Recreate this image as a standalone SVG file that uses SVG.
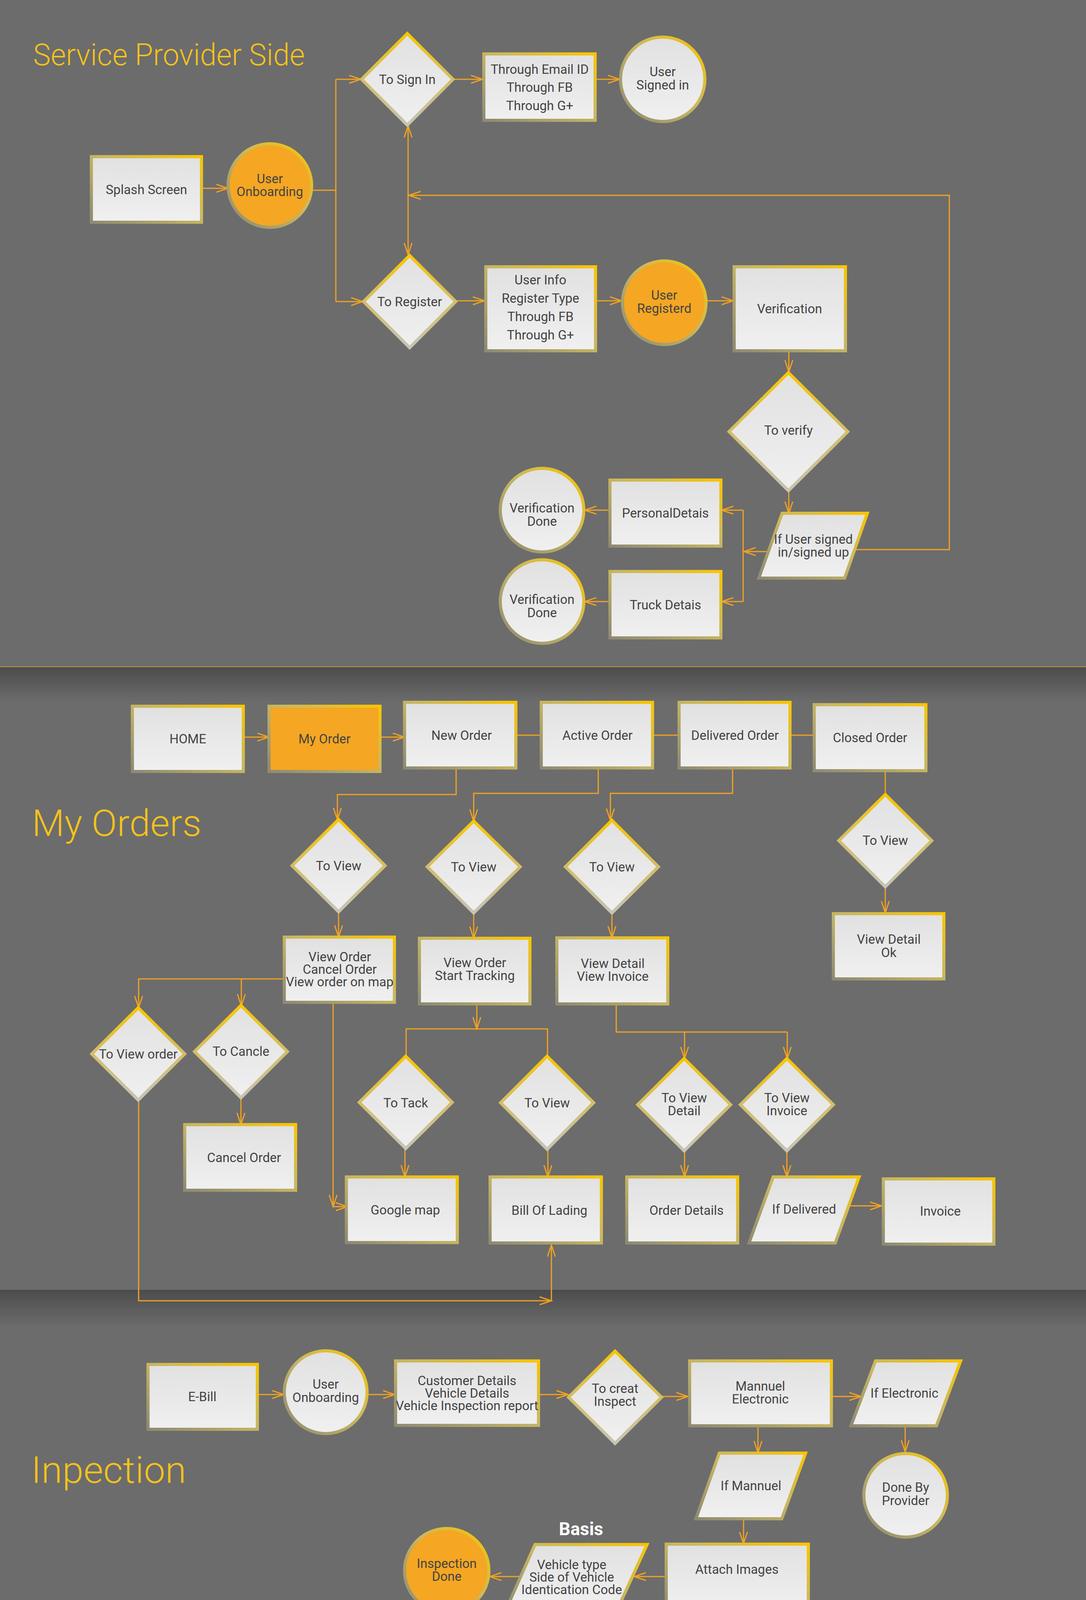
<svg xmlns="http://www.w3.org/2000/svg" width="2781" height="4831" viewBox="0 0 2781 4831">
<defs>
<linearGradient id="gb" x1="0" y1="1" x2="1" y2="0"><stop offset="0" stop-color="#8e8a74"/><stop offset="0.55" stop-color="#c9b860"/><stop offset="1" stop-color="#f9c500"/></linearGradient>
<linearGradient id="gd" x1="0" y1="0" x2="0" y2="1"><stop offset="0" stop-color="#f8c600"/><stop offset="0.5" stop-color="#d2be68"/><stop offset="1" stop-color="#c6c4b6"/></linearGradient>
<linearGradient id="gf" x1="0" y1="0" x2="0" y2="1"><stop offset="0" stop-color="#e1e1e1"/><stop offset="1" stop-color="#f0f0f0"/></linearGradient>
<linearGradient id="gs" x1="0" y1="0" x2="0" y2="1"><stop offset="0" stop-color="#000" stop-opacity="0.3"/><stop offset="1" stop-color="#000" stop-opacity="0"/></linearGradient>
<linearGradient id="gy" x1="0" y1="0" x2="0" y2="1"><stop offset="0" stop-color="#7a6420" stop-opacity="0.55"/><stop offset="1" stop-color="#7a6420" stop-opacity="0"/></linearGradient>
<marker id="ah" markerUnits="userSpaceOnUse" viewBox="0 0 34 24" markerWidth="34" markerHeight="24" refX="31" refY="12" orient="auto" overflow="visible"><path d="M1,2 L31,12 L1,22" fill="none" stroke="#f5a31e" stroke-width="3"/></marker>
</defs>
<style>
.bx{fill:url(#gf);stroke:url(#gb);stroke-width:8}
.or{fill:#f5a623;stroke:url(#gb);stroke-width:8}
.dm{fill:url(#gf);stroke:url(#gd);stroke-width:8}
.t{font-family:Roboto,"Liberation Sans",sans-serif;font-size:33px;fill:#434343;text-anchor:middle}
.ttl{font-family:Roboto,"Liberation Sans",sans-serif;font-weight:300;fill:#f7c21b}
.c{fill:none;stroke:#f5a31e;stroke-width:3}
.a{marker-end:url(#ah)}
</style>

<g id="background">
<rect x="0" y="0" width="2781" height="4831" fill="#ffffff"/>
<rect x="0" y="0" width="2781" height="4412" fill="#6c6c6c"/>
<rect x="0" y="1708" width="2781" height="90" fill="url(#gs)"/>
<line x1="0" y1="1707" x2="2781" y2="1707" stroke="#b8963a" stroke-width="2"/>
<rect x="0" y="3302" width="2781" height="95" fill="url(#gs)"/>
<path d="M0,4412 H2781 V4588 A4300,4300 0 0 1 0,4588 Z" fill="#f6ca2f"/>
<rect x="0" y="4412" width="2781" height="125" fill="url(#gy)"/>
</g>

<g id="titles">
<text class="ttl" x="85" y="167" font-size="77" textLength="696" lengthAdjust="spacingAndGlyphs">Service Provider Side</text>
<text class="ttl" x="82" y="2140" font-size="94" textLength="434" lengthAdjust="spacingAndGlyphs">My Orders</text>
<text class="ttl" x="80" y="3796" font-size="94" textLength="397" lengthAdjust="spacingAndGlyphs">Inpection</text>
</g>

<g id="connectors">
<path class="c a" d="M516,482 H584"/>
<path class="c" d="M798,487 H860 M860,203 V772"/>
<path class="c a" d="M860,203 H924"/>
<path class="c a" d="M860,772 H929"/>
<path class="c a" d="M1045,500 V322"/>
<path class="c a" d="M1045,500 V652"/>
<path class="c a" d="M1163,203 H1236"/>
<path class="c a" d="M1524,203 H1587"/>
<path class="c a" d="M1170,770 H1241"/>
<path class="c a" d="M1525,770 H1592"/>
<path class="c a" d="M1808,770 H1878"/>
<path class="c a" d="M2020,898 V952"/>
<path class="c a" d="M2020,1256 V1314"/>
<path class="c a" d="M2185,1407 H2431 V500 H1047"/>
<path class="c a" d="M1968,1412 H1905"/>
<path class="c" d="M1903,1306 V1540"/>
<path class="c a" d="M1903,1306 H1848"/>
<path class="c a" d="M1903,1540 H1848"/>
<path class="c a" d="M1562,1306 H1497"/>
<path class="c a" d="M1562,1540 H1497"/>

<path class="c a" d="M623,1887 H689"/>
<path class="c a" d="M973,1887 H1036"/>
<path class="c" d="M1321,1882 H1386 M1671,1882 H1739 M2023,1882 H2085"/>
<path class="c a" d="M1168,1966 V2034 H864 V2098"/>
<path class="c a" d="M1532,1966 V2031 H1213 V2102"/>
<path class="c a" d="M1876,1966 V2031 H1563 V2100"/>
<path class="c" d="M2267,1973 V2034"/>
<path class="c a" d="M867,2334 V2399"/>
<path class="c a" d="M1213,2337 V2402"/>
<path class="c a" d="M1567,2337 V2401"/>
<path class="c a" d="M2267,2270 V2337"/>
<path class="c a" d="M728,2506 H355 V2580"/>
<path class="c a" d="M618,2506 V2575"/>
<path class="c a" d="M617,2810 V2879"/>
<path class="c a" d="M355,2816 V3330 H1412"/>
<path class="c a" d="M1412,3330 V3187"/>
<path class="c a" d="M853,2566 V3089"/>
<path class="c a" d="M853,3089 H890"/>
<path class="c a" d="M1221,2570 V2634"/>
<path class="c" d="M1040,2704 V2634 H1402 V2704"/>
<path class="c a" d="M1037,2940 V3013"/>
<path class="c a" d="M1403,2943 V3013"/>
<path class="c" d="M1578,2570 V2642 H2016"/>
<path class="c a" d="M1753,2642 V2710"/>
<path class="c a" d="M2016,2642 V2710"/>
<path class="c a" d="M1753,2945 V3013"/>
<path class="c a" d="M2015,2945 V3013"/>
<path class="c a" d="M2172,3087 H2258"/>

<path class="c a" d="M659,3570 H727"/>
<path class="c a" d="M943,3570 H1011"/>
<path class="c a" d="M1379,3570 H1455"/>
<path class="c a" d="M1694,3575 H1762"/>
<path class="c a" d="M2129,3575 H2205"/>
<path class="c a" d="M2318,3650 V3717"/>
<path class="c a" d="M1941,3650 V3719"/>
<path class="c a" d="M1904,3888 V3952"/>
<path class="c a" d="M1706,4036 H1624"/>
<path class="c a" d="M1330,4036 H1254"/>
</g>

<g id="n-splash"><rect class="bx" x="234" y="401" width="282" height="168"/><text class="t" x="375" y="497">Splash Screen</text></g>
<g id="n-onboarding"><circle class="or" cx="691" cy="475" r="107"/><text class="t" x="691" y="469">User</text><text class="t" x="691" y="502">Onboarding</text></g>
<g id="n-signin"><polygon class="dm" points="1043,86 1160,203 1043,320 926,203"/><text class="t" x="1043" y="215">To Sign In</text></g>
<g id="n-register"><polygon class="dm" points="1049,654 1167,772 1049,890 931,772"/><text class="t" x="1049" y="784">To Register</text></g>
<g id="n-email"><rect class="bx" x="1239" y="138" width="285" height="170"/><text class="t" x="1382" y="189">Through Email ID</text><text class="t" x="1382" y="235">Through FB</text><text class="t" x="1382" y="282">Through G+</text></g>
<g id="n-signedin"><circle class="bx" cx="1697" cy="203" r="108"/><text class="t" x="1697" y="195">User</text><text class="t" x="1697" y="229">Signed in</text></g>
<g id="n-userinfo"><rect class="bx" x="1244" y="683" width="281" height="215"/><text class="t" x="1384" y="728">User Info</text><text class="t" x="1384" y="775">Register Type</text><text class="t" x="1384" y="822">Through FB</text><text class="t" x="1384" y="869">Through G+</text></g>
<g id="n-registerd"><circle class="or" cx="1701" cy="775" r="107"/><text class="t" x="1701" y="767">User</text><text class="t" x="1701" y="801">Registerd</text></g>
<g id="n-verification"><rect class="bx" x="1880" y="683" width="285" height="215"/><text class="t" x="2022" y="802">Verification</text></g>
<g id="n-toverify"><polygon class="dm" points="2019,954 2171,1105 2019,1256 1867,1105"/><text class="t" x="2019" y="1113">To verify</text></g>
<g id="n-ifuser"><polygon class="bx" points="2003,1314 2221,1314 2163,1480 1943,1480"/><text class="t" x="2083" y="1392">If User signed</text><text class="t" x="2083" y="1425">in/signed up</text></g>
<g id="n-personal"><rect class="bx" x="1562" y="1229" width="284" height="169"/><text class="t" x="1704" y="1325">PersonalDetais</text></g>
<g id="n-truck"><rect class="bx" x="1562" y="1463" width="284" height="170"/><text class="t" x="1704" y="1560">Truck Detais</text></g>
<g id="n-vdone1"><circle class="bx" cx="1388" cy="1306" r="107"/><text class="t" x="1388" y="1312">Verification</text><text class="t" x="1388" y="1346">Done</text></g>
<g id="n-vdone2"><circle class="bx" cx="1388" cy="1540" r="107"/><text class="t" x="1388" y="1546">Verification</text><text class="t" x="1388" y="1580">Done</text></g>

<g id="n-home"><rect class="bx" x="339" y="1808" width="284" height="167"/><text class="t" x="481" y="1903">HOME</text></g>
<g id="n-myorder"><rect class="or" x="689" y="1808" width="284" height="167"/><text class="t" x="831" y="1903">My Order</text></g>
<g id="n-neworder"><rect class="bx" x="1036" y="1798" width="285" height="168"/><text class="t" x="1182" y="1894">New Order</text></g>
<g id="n-activeorder"><rect class="bx" x="1386" y="1798" width="285" height="168"/><text class="t" x="1530" y="1894">Active Order</text></g>
<g id="n-deliveredorder"><rect class="bx" x="1739" y="1798" width="284" height="168"/><text class="t" x="1882" y="1894">Delivered Order</text></g>
<g id="n-closedorder"><rect class="bx" x="2085" y="1804" width="286" height="169"/><text class="t" x="2228" y="1900">Closed Order</text></g>
<g id="n-view1"><polygon class="dm" points="867,2098 986,2216 867,2334 748,2216"/><text class="t" x="867" y="2228">To View</text></g>
<g id="n-view2"><polygon class="dm" points="1213,2102 1332,2219 1213,2337 1094,2219"/><text class="t" x="1213" y="2231">To View</text></g>
<g id="n-view3"><polygon class="dm" points="1567,2100 1686,2219 1567,2337 1448,2219"/><text class="t" x="1567" y="2231">To View</text></g>
<g id="n-view4"><polygon class="dm" points="2267,2034 2386,2152 2267,2270 2148,2152"/><text class="t" x="2267" y="2163">To View</text></g>
<g id="n-box1"><rect class="bx" x="728" y="2399" width="282" height="167"/><text class="t" x="870" y="2461">View Order</text><text class="t" x="870" y="2493">Cancel Order</text><text class="t" x="870" y="2525">View order on map</text></g>
<g id="n-box2"><rect class="bx" x="1074" y="2402" width="283" height="168"/><text class="t" x="1216" y="2476">View Order</text><text class="t" x="1216" y="2509">Start Tracking</text></g>
<g id="n-box3"><rect class="bx" x="1426" y="2401" width="284" height="169"/><text class="t" x="1569" y="2478">View Detail</text><text class="t" x="1569" y="2511">View Invoice</text></g>
<g id="n-box4"><rect class="bx" x="2134" y="2339" width="283" height="167"/><text class="t" x="2276" y="2416">View Detail</text><text class="t" x="2276" y="2450">Ok</text></g>
<g id="n-viewordr"><polygon class="dm" points="354,2580 473,2698 354,2816 235,2698"/><text class="t" x="354" y="2710">To View order</text></g>
<g id="n-cancle"><polygon class="dm" points="617,2574 736,2692 617,2810 498,2692"/><text class="t" x="617" y="2703">To Cancle</text></g>
<g id="n-cancelorder"><rect class="bx" x="473" y="2879" width="284" height="168"/><text class="t" x="625" y="2975">Cancel Order</text></g>
<g id="n-tack"><polygon class="dm" points="1039,2704 1158,2822 1039,2940 920,2822"/><text class="t" x="1039" y="2835">To Tack</text></g>
<g id="n-view6"><polygon class="dm" points="1401,2704 1520,2823 1401,2942 1282,2823"/><text class="t" x="1401" y="2835">To View</text></g>
<g id="n-viewdetail"><polygon class="dm" points="1752,2710 1871,2828 1752,2946 1633,2828"/><text class="t" x="1752" y="2822">To View</text><text class="t" x="1752" y="2855">Detail</text></g>
<g id="n-viewinvoice"><polygon class="dm" points="2015,2710 2134,2828 2015,2946 1896,2828"/><text class="t" x="2015" y="2822">To View</text><text class="t" x="2015" y="2855">Invoice</text></g>
<g id="n-googlemap"><rect class="bx" x="887" y="3013" width="284" height="168"/><text class="t" x="1038" y="3109">Google map</text></g>
<g id="n-billoflading"><rect class="bx" x="1255" y="3013" width="285" height="169"/><text class="t" x="1407" y="3110">Bill Of Lading</text></g>
<g id="n-orderdetails"><rect class="bx" x="1605" y="3013" width="284" height="169"/><text class="t" x="1758" y="3110">Order Details</text></g>
<g id="n-ifdelivered"><polygon class="bx" points="1980,3013 2200,3013 2139,3182 1918,3182"/><text class="t" x="2059" y="3107">If Delivered</text></g>
<g id="n-invoice"><rect class="bx" x="2262" y="3018" width="283" height="167"/><text class="t" x="2408" y="3112">Invoice</text></g>

<g id="n-ebill"><rect class="bx" x="379" y="3493" width="280" height="166"/><text class="t" x="518" y="3587">E-Bill</text></g>
<g id="n-onboarding2"><circle class="bx" cx="834" cy="3564" r="106"/><text class="t" x="834" y="3555">User</text><text class="t" x="834" y="3589">Onboarding</text></g>
<g id="n-customer"><rect class="bx" x="1013" y="3484" width="366" height="165"/><text class="t" x="1196" y="3546">Customer Details</text><text class="t" x="1196" y="3578">Vehicle Details</text><text class="t" x="1196" y="3610">Vehicle Inspection report</text></g>
<g id="n-createinspect"><polygon class="dm" points="1575,3459 1694,3577 1575,3695 1456,3577"/><text class="t" x="1575" y="3566">To creat</text><text class="t" x="1575" y="3599">Inspect</text></g>
<g id="n-mannuel"><rect class="bx" x="1766" y="3484" width="363" height="166"/><text class="t" x="1947" y="3560">Mannuel</text><text class="t" x="1947" y="3593">Electronic</text></g>
<g id="n-ifelectronic"><polygon class="bx" points="2242,3484 2460,3484 2398,3650 2179,3650"/><text class="t" x="2316" y="3578">If Electronic</text></g>
<g id="n-donebyprovider"><circle class="bx" cx="2319" cy="3828" r="107"/><text class="t" x="2319" y="3819">Done By</text><text class="t" x="2319" y="3853">Provider</text></g>
<g id="n-ifmannuel"><polygon class="bx" points="1842,3720 2063,3720 2002,3888 1782,3888"/><text class="t" x="1923" y="3815">If Mannuel</text></g>
<g id="n-attach"><rect class="bx" x="1706" y="3953" width="364" height="166"/><text class="t" x="1887" y="4029">Attach Images</text></g>
<g id="n-basis"><text x="1488" y="3930" font-family="Roboto, 'Liberation Sans', sans-serif" font-size="46" font-weight="700" fill="#ffffff" text-anchor="middle">Basis</text><polygon class="bx" points="1370,3954 1657,3954 1580,4122 1295,4122"/><text class="t" x="1464" y="4017">Vehicle type</text><text class="t" x="1464" y="4049">Side of Vehicle</text><text class="t" x="1464" y="4081">Identication Code</text></g>
<g id="n-inspectiondone"><circle class="or" cx="1144" cy="4021" r="108"/><text class="t" x="1144" y="4014">Inspection</text><text class="t" x="1144" y="4047">Done</text></g>
</svg>
